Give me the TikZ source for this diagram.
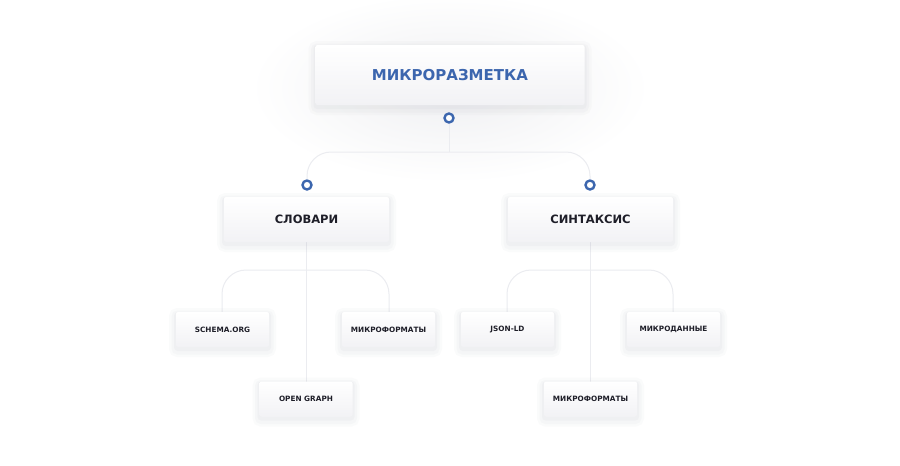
\documentclass[tikz,border=0pt]{standalone}
\usepackage{fontspec}
\setmainfont{DejaVu Sans}

\definecolor{markblue}{HTML}{3C66AE}
\definecolor{inkdark}{HTML}{1E1E28}
\definecolor{linkgray}{HTML}{EBECF0}
\definecolor{boxfill}{HTML}{F2F2F5}
\definecolor{shadegray}{HTML}{8C8FA0}

\begin{document}
\begin{tikzpicture}[x=1pt, y=-1pt,
  softshadow/.style={
    preaction={draw=shadegray, draw opacity=.035, line width=14pt, transform canvas={yshift=-3pt}},
    preaction={draw=shadegray, draw opacity=.04, line width=9pt, transform canvas={yshift=-3pt}},
    preaction={draw=shadegray, draw opacity=.05, line width=4pt, transform canvas={yshift=-2pt}}},
  box/.style={top color=white, bottom color=boxfill, rounded corners=2pt, inner sep=0pt,
    font=\bfseries, text=inkdark, softshadow},
  rootbox/.style={box, minimum width=269pt, minimum height=60pt, text=markblue, font=\bfseries\fontsize{15}{18}\selectfont},
  midbox/.style={box, minimum width=165pt, minimum height=45pt, font=\bfseries\fontsize{11.5}{14}\selectfont},
  leafbox/.style={box, minimum width=93pt, minimum height=35pt, font=\bfseries\fontsize{7.3}{9}\selectfont},
  ring/.style={circle, draw=markblue, fill=white, line width=2.4pt, minimum size=9pt, inner sep=0pt},
  link/.style={draw=linkgray, line width=1pt, rounded corners=24pt}]

\path[fill=white, use as bounding box] (0,0) rectangle (900,466);

% glow behind the root box
\shade[inner color=shadegray!14, outer color=white] (450,88) ellipse (200pt and 95pt);

% connectors first, boxes on top
\coordinate (j0) at (449,152);
\coordinate (j1) at (306,270);
\coordinate (j2) at (590,270);

\node[rootbox] (root) at (450,75) {МИКРОРАЗМЕТКА};
\node[ring] (r0) at (449,118) {};
\node[ring] (r1) at (307,185) {};
\node[ring] (r2) at (590,185) {};

\path[link] (r0.south) -- (j0);
\path[link] (r1.north) |- (j0) -| (r2.north);

\coordinate (sl) at (306,242);
\coordinate (sn) at (590,242);

\path[link] (sl) -- (306,382);
\path[link] (sn) -- (590,382);
\path[link] (222,312) |- (j1) -| (389,312);
\path[link] (507,312) |- (j2) -| (673,312);

\node[midbox] (slov) at (306.5,219.5) {СЛОВАРИ};
\node[midbox] (sint) at (590.5,219.5) {СИНТАКСИС};

\node[leafbox] (schema) at (222.5,329.5) {SCHEMA.ORG};
\node[leafbox] (mform) at (388.5,329.5) {МИКРОФОРМАТЫ};
\node[leafbox] (ograph) at (306,399) {OPEN GRAPH};

\node[leafbox] (json) at (507.5,329.5) {JSON-LD};
\node[leafbox] (mdata) at (673.5,329.5) {МИКРОДАННЫЕ};
\node[leafbox] (mform2) at (590.5,399) {МИКРОФОРМАТЫ};

\end{tikzpicture}
\end{document}
